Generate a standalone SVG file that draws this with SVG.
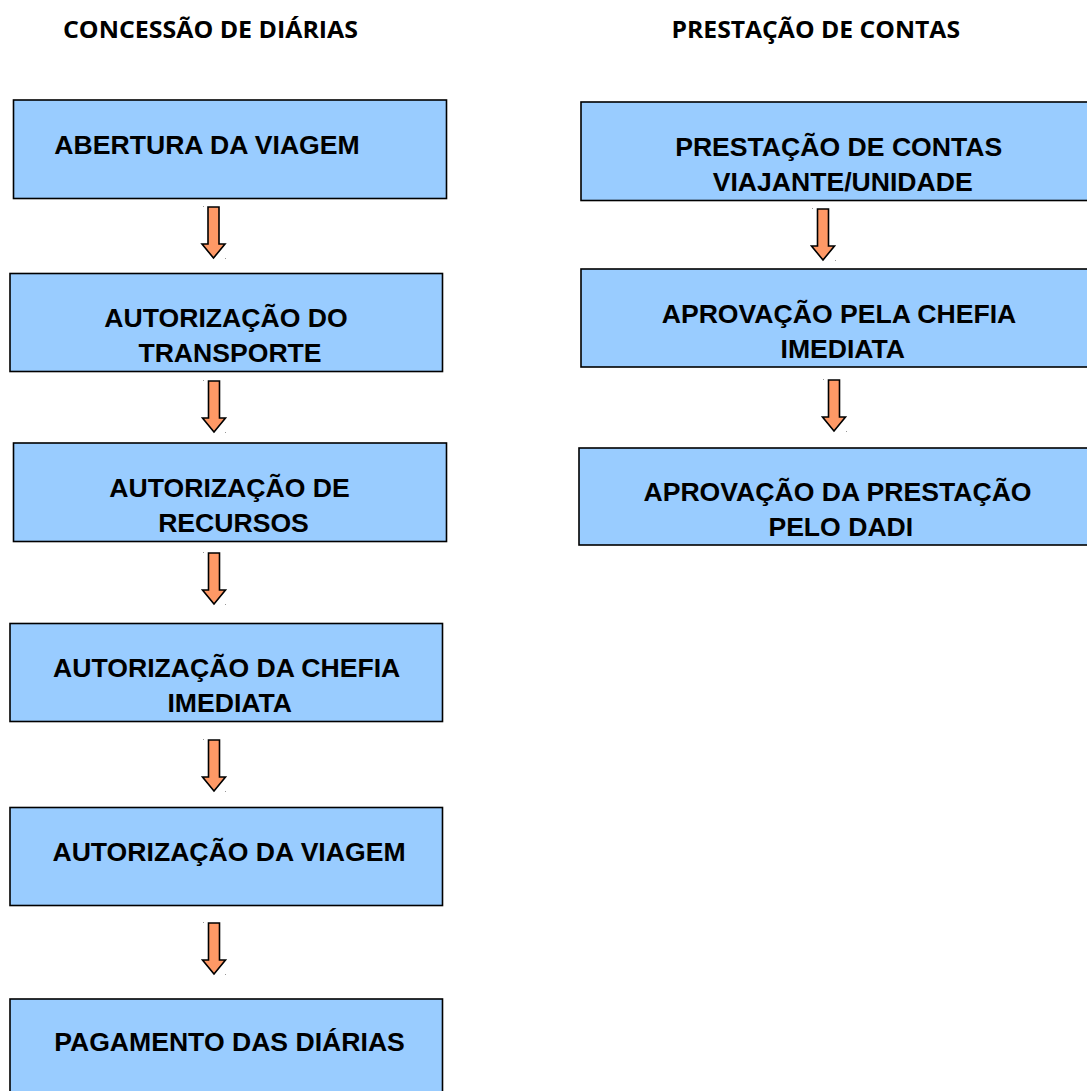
<svg xmlns="http://www.w3.org/2000/svg" xmlns:xlink="http://www.w3.org/1999/xlink" width="1087" height="1091" viewBox="0 0 1087 1091">
<style>
.box{fill:#99CCFF;stroke:#000;stroke-width:1.6}
.lbl{font-family:"Liberation Sans",Arial,sans-serif;font-weight:bold;font-size:26.6px;fill:#000;text-anchor:middle}
.ttl{font-family:"Open Sans","Noto Sans",sans-serif;font-weight:bold;font-size:24px;fill:#000}
.arrow{fill:#FF9966;stroke:#000;stroke-width:1.6;stroke-linejoin:miter}
.dot{fill:#999}
</style>
<defs>
<path id="arr" d="M-5.5 0 H5.5 V37 H11.5 L0 51 L-11.5 37 H-5.5 Z"/>
</defs>
<rect width="1087" height="1091" fill="#fff"/>
<g id="titles">
<text class="ttl" x="63" y="38" textLength="295" lengthAdjust="spacingAndGlyphs">CONCESSÃO DE DIÁRIAS</text>
<text class="ttl" x="671.5" y="38" textLength="288.5" lengthAdjust="spacingAndGlyphs">PRESTAÇÃO DE CONTAS</text>
</g>
<g id="connectors">
<use href="#arr" class="arrow" x="213.5" y="207"/>
<use href="#arr" class="arrow" x="214" y="381"/>
<use href="#arr" class="arrow" x="214" y="553"/>
<use href="#arr" class="arrow" x="214" y="740"/>
<use href="#arr" class="arrow" x="214" y="923"/>
<use href="#arr" class="arrow" x="823" y="209"/>
<use href="#arr" class="arrow" x="834" y="380"/>
<rect class="dot" x="203" y="206" width="1" height="1"/><rect class="dot" x="225" y="258" width="1" height="1"/>
<rect class="dot" x="203" y="380" width="1" height="1"/><rect class="dot" x="225" y="432" width="1" height="1"/>
<rect class="dot" x="203" y="552" width="1" height="1"/><rect class="dot" x="225" y="604" width="1" height="1"/>
<rect class="dot" x="203" y="739" width="1" height="1"/><rect class="dot" x="225" y="791" width="1" height="1"/>
<rect class="dot" x="203" y="922" width="1" height="1"/><rect class="dot" x="225" y="974" width="1" height="1"/>
<rect class="dot" x="812" y="208" width="1" height="1"/><rect class="dot" x="835" y="260" width="1" height="1"/>
<rect class="dot" x="823" y="379" width="1" height="1"/><rect class="dot" x="846" y="431" width="1" height="1"/>
</g>
<g id="abertura">
<rect class="box" x="13.5" y="100" width="433" height="98.5"/>
<text class="lbl" x="207" y="154">ABERTURA DA VIAGEM</text>
</g>
<g id="transporte">
<rect class="box" x="10" y="273.5" width="432.5" height="98"/>
<text class="lbl" x="226" y="326.5">AUTORIZAÇÃO DO</text>
<text class="lbl" x="230" y="361.5">TRANSPORTE</text>
</g>
<g id="recursos">
<rect class="box" x="13.5" y="443" width="433" height="98.5"/>
<text class="lbl" x="229.5" y="496.5">AUTORIZAÇÃO DE</text>
<text class="lbl" x="233.5" y="531.5">RECURSOS</text>
</g>
<g id="chefia">
<rect class="box" x="10" y="623.5" width="432.5" height="98"/>
<text class="lbl" x="226.7" y="676.5">AUTORIZAÇÃO DA CHEFIA</text>
<text class="lbl" x="229.7" y="711.5">IMEDIATA</text>
</g>
<g id="viagem">
<rect class="box" x="10" y="807.5" width="432.5" height="98"/>
<text class="lbl" x="229" y="860.5">AUTORIZAÇÃO DA VIAGEM</text>
</g>
<g id="pagamento">
<rect class="box" x="10" y="999" width="432.5" height="110"/>
<text class="lbl" x="229.5" y="1050.5">PAGAMENTO DAS DIÁRIAS</text>
</g>
<g id="prestacao">
<rect class="box" x="581" y="102" width="520" height="98.5"/>
<text class="lbl" x="838.7" y="156">PRESTAÇÃO DE CONTAS</text>
<text class="lbl" x="842.7" y="191">VIAJANTE/UNIDADE</text>
</g>
<g id="aprovacao-chefia">
<rect class="box" x="581" y="269" width="520" height="98"/>
<text class="lbl" x="839" y="322.5">APROVAÇÃO PELA CHEFIA</text>
<text class="lbl" x="842.8" y="357.5">IMEDIATA</text>
</g>
<g id="aprovacao-dadi">
<rect class="box" x="579" y="448" width="522" height="97"/>
<text class="lbl" x="837.5" y="500.5">APROVAÇÃO DA PRESTAÇÃO</text>
<text class="lbl" x="840.8" y="535.5">PELO DADI</text>
</g>
</svg>
